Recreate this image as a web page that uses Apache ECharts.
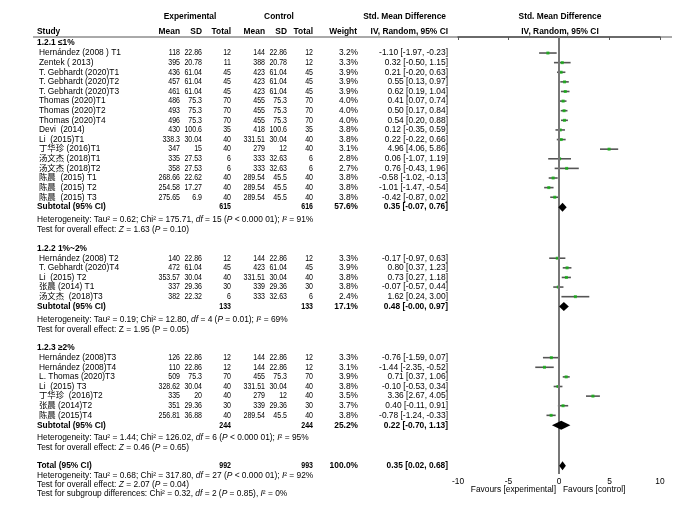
<!DOCTYPE html>
<html><head><meta charset="utf-8">
<script src="https://cdn.jsdelivr.net/npm/echarts@6/dist/echarts.min.js"></script>
<style>html,body{margin:0;padding:0;background:#fff}#c{width:700px;height:515px}</style>
</head><body><div id="c"></div>
<script>
// ---------------- data ----------------
const groupLabels = ["1.2.1 \u22641%", "1.2.2 1%~2%", "1.2.3 \u22652%"];
const studyNames = [
  "Hern\u00e1ndez (2008 ) T1", "Zentek ( 2013)", "T. Gebhardt (2020)T1", "T. Gebhardt (2020)T2",
  "T. Gebhardt (2020)T3", "Thomas (2020)T1", "Thomas (2020)T2", "Thomas (2020)T4",
  "Devi  (2014)", "Li  (2015)T1", "丁华珍 (2016)T1", "汤文杰 (2018)T1", "汤文杰 (2018)T2",
  "陈晨  (2015) T1", "陈晨  (2015) T2", "陈晨  (2015) T3",
  "Hern\u00e1ndez (2008) T2", "T. Gebhardt (2020)T4", "Li  (2015) T2", "张晨 (2014) T1", "汤文杰  (2018)T3",
  "Hern\u00e1ndez (2008)T3", "Hern\u00e1ndez (2008)T4", "L. Thomas (2020)T3", "Li  (2015) T3",
  "丁华珍  (2016)T2", "张晨 (2014)T2", "陈晨 (2015)T4"
];
const studyGroup = [0,0,0,0,0,0,0,0,0,0,0,0,0,0,0,0, 1,1,1,1,1, 2,2,2,2,2,2,2];
const expMean = [118,395,436,457,461,486,493,496,430,338.3,347,335,358,268.66,254.58,275.65,
  140,472,353.57,337,382, 126,110,509,328.62,335,351,256.81];
const expSD = [22.86,20.78,61.04,61.04,61.04,75.3,75.3,75.3,100.6,30.04,15,27.53,27.53,22.62,17.27,6.9,
  22.86,61.04,30.04,29.36,22.32, 22.86,22.86,75.3,30.04,20,29.36,36.88];
const expN = [12,11,45,45,45,70,70,70,35,40,40,6,6,40,40,40, 12,45,40,30,6, 12,12,70,40,40,30,40];
const ctlMean = [144,388,423,423,423,455,455,455,418,331.51,279,333,333,289.54,289.54,289.54,
  144,423,331.51,339,333, 144,144,455,331.51,279,339,289.54];
const ctlSD = [22.86,20.78,61.04,61.04,61.04,75.3,75.3,75.3,100.6,30.04,12,32.63,32.63,45.5,45.5,45.5,
  22.86,61.04,30.04,29.36,32.63, 22.86,22.86,75.3,30.04,12,29.36,45.5];
const ctlN = [12,12,45,45,45,70,70,70,35,40,40,6,6,40,40,40, 12,45,40,30,6, 12,12,70,40,40,30,40];
const weightPct = [3.2,3.3,3.9,3.9,3.9,4.0,4.0,4.0,3.8,3.8,3.1,2.8,2.7,3.8,3.8,3.8,
  3.3,3.9,3.8,3.8,2.4, 3.3,3.1,3.9,3.8,3.5,3.7,3.8];
const smd = [-1.10,0.32,0.21,0.55,0.62,0.41,0.50,0.54,0.12,0.22,4.96,0.06,0.76,-0.58,-1.01,-0.42,
  -0.17,0.80,0.73,-0.07,1.62, -0.76,-1.44,0.71,-0.10,3.36,0.40,-0.78];
const ciLow = [-1.97,-0.50,-0.20,0.13,0.19,0.07,0.17,0.20,-0.35,-0.22,4.06,-1.07,-0.43,-1.02,-1.47,-0.87,
  -0.97,0.37,0.27,-0.57,0.24, -1.59,-2.35,0.37,-0.53,2.67,-0.11,-1.24];
const ciHigh = [-0.23,1.15,0.63,0.97,1.04,0.74,0.84,0.88,0.59,0.66,5.86,1.19,1.96,-0.13,-0.54,0.02,
  0.63,1.23,1.18,0.44,3.00, 0.07,-0.52,1.06,0.34,4.05,0.91,-0.33];

const subExpN = [615, 133, 244];
const subCtlN = [616, 133, 244];
const subWeight = [57.6, 17.1, 25.2];
const subSmd = [0.35, 0.48, 0.22];
const subLow = [-0.07, -0.00, -0.70];
const subHigh = [0.76, 0.97, 1.13];
const subHet = [
  "Heterogeneity: Tau\u00b2 = 0.62; Chi\u00b2 = 175.71, {i|df} = 15 ({i|P} < 0.000 01); {i|I}\u00b2 = 91%",
  "Heterogeneity: Tau\u00b2 = 0.19; Chi\u00b2 = 12.80, {i|df} = 4 ({i|P} = 0.01); {i|I}\u00b2 = 69%",
  "Heterogeneity: Tau\u00b2 = 1.44; Chi\u00b2 = 126.02, {i|df} = 6 ({i|P} < 0.000 01); {i|I}\u00b2 = 95%"
];
const subTest = [
  "Test for overall effect: {i|Z} = 1.63 ({i|P} = 0.10)",
  "Test for overall effect: Z = 1.95 (P = 0.05)",
  "Test for overall effect: {i|Z} = 0.46 ({i|P} = 0.65)"
];
const totalExpN = 992, totalCtlN = 993, totalWeight = 100.0;
const totalSmd = 0.35, totalLow = 0.02, totalHigh = 0.68;
const totalNotes = [
  "Heterogeneity: Tau\u00b2 = 0.68; Chi\u00b2 = 317.80, {i|df} = 27 ({i|P} < 0.000 01); {i|I}\u00b2 = 92%",
  "Test for overall effect: {i|Z} = 2.07 ({i|P} = 0.04)",
  "Test for subgroup differences: Chi\u00b2 = 0.32, {i|df} = 2 ({i|P} = 0.85), {i|I}\u00b2 = 0%"
];
const xTicks = [-10, -5, 0, 5, 10];

// ---------------- layout ----------------
const FONT = '"Liberation Sans", Arial, "Noto Sans CJK SC", sans-serif';
const FS = 8.4;
const NUM_SCALE = 0.84;
const COL = {name: 39, sec: 37, eMean: 180, eSD: 202, eN: 231, cMean: 265, cSD: 287, cN: 313, w: 358, ci: 448};
const fmt = v => ((v < 0 || Object.is(v, -0)) ? '-' : '') + Math.abs(v).toFixed(2);
const ciText = (e, l, h) => fmt(e) + ' [' + fmt(l) + ', ' + fmt(h) + ']';

const rows = [];     // table text rows
const studyPts = []; // [est, row, lo, hi]
const diamonds = []; // [est, row, lo, hi]
let r = 0.62;
for (let g = 0; g < 3; g++) {
  rows.push({r, cells: [{t: groupLabels[g], x: COL.sec, a: 'left', b: true}]});
  r += 1.03;
  const idx = studyGroup.map((gg, i) => gg === g ? i : -1).filter(i => i >= 0);
  idx.forEach((i, k) => {
    if (k > 0) r += 0.99;
    rows.push({r, cells: [
      {t: studyNames[i], x: COL.name, a: 'left'},
      {t: String(expMean[i]), x: COL.eMean, a: 'right', n: true},
      {t: String(expSD[i]), x: COL.eSD, a: 'right', n: true},
      {t: String(expN[i]), x: COL.eN, a: 'right', n: true},
      {t: String(ctlMean[i]), x: COL.cMean, a: 'right', n: true},
      {t: String(ctlSD[i]), x: COL.cSD, a: 'right', n: true},
      {t: String(ctlN[i]), x: COL.cN, a: 'right', n: true},
      {t: weightPct[i].toFixed(1) + '%', x: COL.w, a: 'right'},
      {t: ciText(smd[i], ciLow[i], ciHigh[i]), x: COL.ci, a: 'right'}
    ]});
    studyPts.push([smd[i], r, ciLow[i], ciHigh[i]]);
  });
  r += 1.02;
  rows.push({r, cells: [
    {t: 'Subtotal (95% CI)', x: COL.sec, a: 'left', b: true},
    {t: String(subExpN[g]), x: COL.eN, a: 'right', b: true, n: true},
    {t: String(subCtlN[g]), x: COL.cN, a: 'right', b: true, n: true},
    {t: subWeight[g].toFixed(1) + '%', x: COL.w, a: 'right', b: true},
    {t: ciText(subSmd[g], subLow[g], subHigh[g]), x: COL.ci, a: 'right', b: true}
  ]});
  diamonds.push([subSmd[g], r, subLow[g], subHigh[g]]);
  r += 1.3;
  rows.push({r, cells: [{t: subHet[g], x: COL.sec, a: 'left'}]});
  r += 1.03;
  rows.push({r, cells: [{t: subTest[g], x: COL.sec, a: 'left'}]});
  r += 1.9;
}
r -= 0.05;
rows.push({r, cells: [
  {t: 'Total (95% CI)', x: COL.sec, a: 'left', b: true},
  {t: String(totalExpN), x: COL.eN, a: 'right', b: true, n: true},
  {t: String(totalCtlN), x: COL.cN, a: 'right', b: true, n: true},
  {t: totalWeight.toFixed(1) + '%', x: COL.w, a: 'right', b: true},
  {t: ciText(totalSmd, totalLow, totalHigh), x: COL.ci, a: 'right', b: true}
]});
diamonds.push([totalSmd, r, totalLow, totalHigh]);
totalNotes.forEach(n => { r += 0.97; rows.push({r, cells: [{t: n, x: COL.sec, a: 'left'}]}); });

// ---------------- chart ----------------
const chart = echarts.init(document.getElementById('c'), null, {renderer: 'canvas'});
const TXT = '#000';
function txt(x, y, t, align, bold, extra) {
  return Object.assign({
    type: 'text', x, y, silent: true,
    style: {
      text: t, fill: TXT, fontFamily: FONT, fontSize: FS, fontWeight: bold ? 'bold' : 'normal',
      align, textAlign: align, verticalAlign: 'middle', textVerticalAlign: 'middle',
      rich: {i: {fontStyle: 'italic', fontFamily: FONT, fontSize: FS, fill: TXT}}
    }
  }, extra || {});
}

const headerY1 = 17, headerY2 = 32;
const graphics = [
  txt(190, headerY1, 'Experimental', 'center', true),
  txt(279, headerY1, 'Control', 'center', true),
  txt(446, headerY1, 'Std. Mean Difference', 'right', true),
  txt(560, headerY1, 'Std. Mean Difference', 'center', true),
  txt(37, headerY2, 'Study', 'left', true),
  txt(COL.eMean, headerY2, 'Mean', 'right', true),
  txt(COL.eSD, headerY2, 'SD', 'right', true),
  txt(COL.eN, headerY2, 'Total', 'right', true),
  txt(COL.cMean, headerY2, 'Mean', 'right', true),
  txt(COL.cSD, headerY2, 'SD', 'right', true),
  txt(COL.cN, headerY2, 'Total', 'right', true),
  txt(357, headerY2, 'Weight', 'right', true),
  txt(COL.ci, headerY2, 'IV, Random, 95% CI', 'right', true),
  txt(560, headerY2, 'IV, Random, 95% CI', 'center', true),
  {type: 'line', silent: true, shape: {x1: 33, y1: 37, x2: 672, y2: 37}, style: {stroke: '#555', lineWidth: 1}},
  txt(556, 490, 'Favours [experimental]', 'right', false),
  txt(563, 490, 'Favours [control]', 'left', false)
];

chart.setOption({
  animation: false,
  backgroundColor: '#fff',
  grid: {left: 458, right: 40, top: 37, bottom: 41, containLabel: false},
  xAxis: {
    type: 'value', min: xTicks[0], max: xTicks[xTicks.length - 1], interval: 5,
    axisLine: {show: true, lineStyle: {color: '#555', width: 1.5}},
    axisTick: {show: true, length: 3, lineStyle: {color: '#555', width: 1}},
    axisLabel: {fontFamily: FONT, fontSize: FS, color: TXT, margin: 3},
    splitLine: {show: false}
  },
  yAxis: {type: 'value', inverse: true, min: 0, max: 45, show: false},
  graphic: graphics,
  series: [
    { // table text
      type: 'custom', clip: false, silent: true, z: 5,
      data: rows.map(row => [0, row.r]),
      renderItem: (params, api) => {
        const y = api.coord([0, api.value(1)])[1];
        const row = rows[params.dataIndex];
        return {type: 'group', children: row.cells.map(c =>
          txt(c.x, y, c.t, c.a, c.b, c.n ? {scaleX: NUM_SCALE} : null))};
      }
    },
    { // CI lines
      type: 'custom', clip: false, silent: true, z: 2,
      data: studyPts,
      renderItem: (params, api) => {
        const a = api.coord([api.value(2), api.value(1)]);
        const b = api.coord([api.value(3), api.value(1)]);
        return {type: 'line', shape: {x1: a[0], y1: a[1], x2: b[0], y2: b[1]},
          style: {stroke: '#555', lineWidth: 1.6}};
      }
    },
    { // point estimates
      type: 'scatter', z: 4, silent: true,
      data: studyPts.map(p => [p[0], p[1]]),
      symbol: 'rect', symbolSize: 3,
      itemStyle: {color: '#10b010'},
      markLine: {
        silent: true, symbol: ['none', 'none'], label: {show: false},
        lineStyle: {color: '#777', width: 2, type: 'solid'},
        data: [{xAxis: 0}]
      }
    },
    { // diamonds
      type: 'custom', clip: false, silent: true, z: 6,
      data: diamonds,
      renderItem: (params, api) => {
        const c = api.coord([api.value(0), api.value(1)]);
        const lo = api.coord([api.value(2), api.value(1)]);
        const hi = api.coord([api.value(3), api.value(1)]);
        const h = 4.5;
        return {type: 'polygon', shape: {points: [[lo[0], c[1]], [c[0], c[1] - h], [hi[0], c[1]], [c[0], c[1] + h]]},
          style: {fill: '#000'}};
      }
    }
  ]
});
</script>
</body></html>
